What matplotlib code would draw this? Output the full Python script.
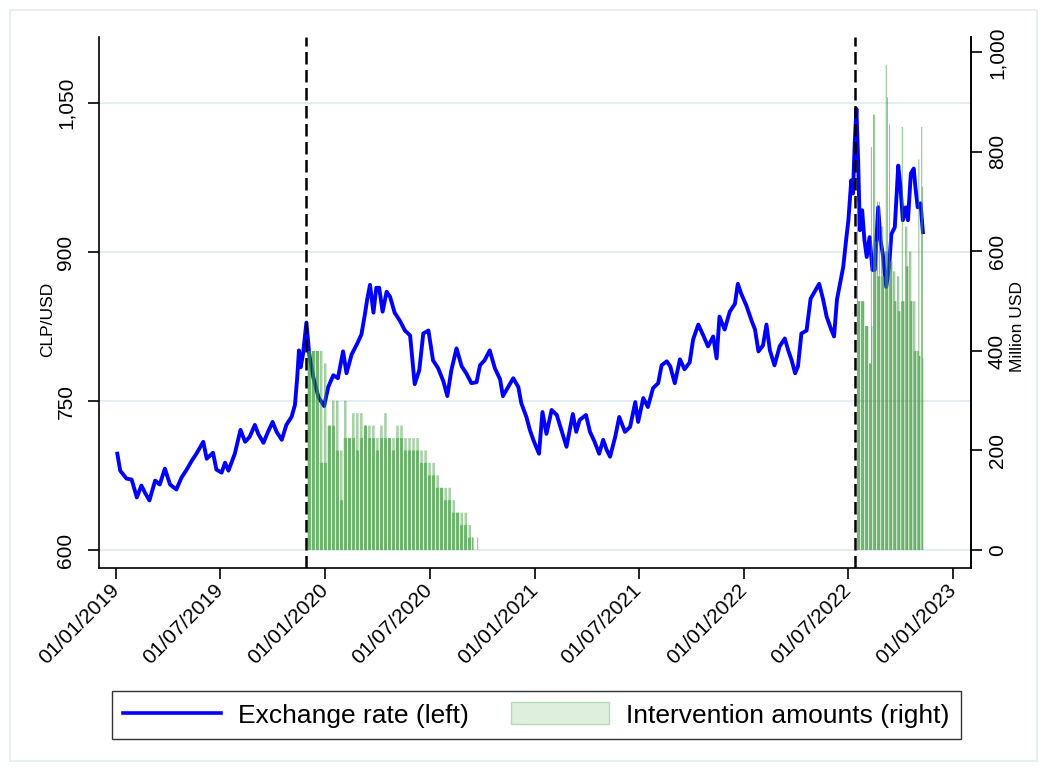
import numpy as np
import pandas as pd
import matplotlib
matplotlib.use("Agg")
import matplotlib.pyplot as plt
from matplotlib.lines import Line2D
from matplotlib.patches import Patch, Rectangle
from matplotlib.ticker import FuncFormatter

plt.rcParams['font.family'] = ['Liberation Sans', 'DejaVu Sans']

# CLP per USD, read at irregular dates
rate_dates = [
    "2019-01-03", "2019-01-08", "2019-01-19", "2019-01-28", "2019-02-06", "2019-02-14",
    "2019-02-20", "2019-02-28", "2019-03-10", "2019-03-18", "2019-03-27", "2019-04-05",
    "2019-04-16", "2019-04-25", "2019-05-04", "2019-05-13", "2019-05-21", "2019-06-02",
    "2019-06-08", "2019-06-19", "2019-06-25", "2019-07-04", "2019-07-10", "2019-07-16",
    "2019-07-27", "2019-08-06", "2019-08-14", "2019-08-22", "2019-08-31", "2019-09-06",
    "2019-09-15", "2019-09-23", "2019-10-01", "2019-10-08", "2019-10-17", "2019-10-25",
    "2019-11-03", "2019-11-09", "2019-11-13", "2019-11-16", "2019-11-19", "2019-11-23",
    "2019-11-29", "2019-12-04", "2019-12-11", "2019-12-20", "2019-12-30", "2020-01-06",
    "2020-01-15", "2020-01-23", "2020-02-01", "2020-02-07", "2020-02-16", "2020-02-25",
    "2020-03-04", "2020-03-10", "2020-03-14", "2020-03-19", "2020-03-25", "2020-03-30",
    "2020-04-04", "2020-04-10", "2020-04-17", "2020-04-23", "2020-05-01", "2020-05-10",
    "2020-05-19", "2020-05-28", "2020-06-05", "2020-06-13", "2020-06-20", "2020-06-29",
    "2020-07-07", "2020-07-16", "2020-07-25", "2020-08-01", "2020-08-08", "2020-08-17",
    "2020-08-26", "2020-09-03", "2020-09-12", "2020-09-21", "2020-09-27", "2020-10-05",
    "2020-10-14", "2020-10-23", "2020-11-01", "2020-11-06", "2020-11-24", "2020-12-03",
    "2020-12-08", "2020-12-17", "2020-12-23", "2020-12-29", "2021-01-08", "2021-01-14",
    "2021-01-21", "2021-01-30", "2021-02-08", "2021-02-16", "2021-02-25", "2021-03-08",
    "2021-03-14", "2021-03-20", "2021-03-31", "2021-04-07", "2021-04-15", "2021-04-23",
    "2021-04-30", "2021-05-06", "2021-05-12", "2021-05-21", "2021-05-28", "2021-06-07",
    "2021-06-16", "2021-06-25", "2021-06-30", "2021-07-09", "2021-07-17", "2021-07-26",
    "2021-08-04", "2021-08-10", "2021-08-19", "2021-08-25", "2021-09-02", "2021-09-11",
    "2021-09-19", "2021-09-28", "2021-10-04", "2021-10-13", "2021-10-21", "2021-10-30",
    "2021-11-08", "2021-11-14", "2021-11-19", "2021-11-28", "2021-12-07", "2021-12-16",
    "2021-12-21", "2021-12-27", "2022-01-05", "2022-01-14", "2022-01-20", "2022-01-26",
    "2022-02-03", "2022-02-09", "2022-02-15", "2022-02-23", "2022-03-04", "2022-03-13",
    "2022-03-19", "2022-03-25", "2022-03-31", "2022-04-05", "2022-04-11", "2022-04-20",
    "2022-04-27", "2022-05-04", "2022-05-12", "2022-05-19", "2022-05-25", "2022-06-02",
    "2022-06-07", "2022-06-12", "2022-06-23", "2022-06-28", "2022-07-02", "2022-07-07",
    "2022-07-10", "2022-07-13", "2022-07-16", "2022-07-19", "2022-07-22", "2022-07-26",
    "2022-07-30", "2022-08-03", "2022-08-08", "2022-08-13", "2022-08-17", "2022-08-23",
    "2022-08-27", "2022-08-31", "2022-09-03", "2022-09-06", "2022-09-11", "2022-09-15",
    "2022-09-21", "2022-09-27", "2022-10-01", "2022-10-05", "2022-10-10", "2022-10-14",
    "2022-10-19", "2022-10-24", "2022-10-27", "2022-10-31", "2022-11-05", "2022-11-09",
]
rate_values = [
    697, 680, 672, 671, 653, 665, 658, 650, 670, 666, 682, 666,
    661, 673, 681, 690, 697, 709, 692, 698, 681, 678, 688, 680,
    697, 721, 709, 714, 726, 717, 708, 719, 729, 719, 711, 726,
    734, 746, 774, 801, 784, 797, 829, 797, 774, 754, 745, 764,
    776, 773, 800, 778, 797, 807, 817, 837, 852, 867, 839, 864,
    864, 840, 860, 855, 839, 831, 821, 816, 767, 781, 818, 821,
    791, 783, 770, 755, 781, 803, 785, 778, 768, 769, 786, 791,
    801, 783, 772, 755, 773, 764, 748, 734, 721, 711, 697, 739,
    717, 741, 736, 721, 704, 737, 719, 731, 736, 719, 709, 697,
    711, 701, 694, 714, 734, 719, 724, 749, 729, 753, 744, 763,
    768, 786, 790, 785, 768, 792, 782, 789, 812, 827, 817, 805,
    815, 793, 835, 822, 840, 848, 868, 858, 846, 831, 822, 800,
    806, 827, 801, 786, 805, 813, 801, 791, 778, 785, 818, 821,
    853, 860, 868, 852, 835, 822, 815, 852, 885, 912, 932, 972,
    959, 1009, 1044, 992, 922, 942, 912, 895, 915, 882, 882, 945,
    912, 898, 882, 865, 885, 918, 925, 987, 965, 932, 945, 932,
    979, 984, 965, 945, 949, 920,
]

# daily intervention amounts (million USD), one row per week, Mon-Fri
sales_2019 = [
    [400, 400, 400, 400, 400], [400, 400, 400, 400, 400], [400, 400, 400, 400, 400],
    [175, 400, 175, 400, 175], [175, 375, 175, 375, 175], [250, 250, 250, 250, 250],
    [250, 300, 250, 300, 250], [200, 300, 200, 300, 200], [100, 200, 100, 200, 100],
    [225, 300, 225, 300, 225], [225, 225, 225, 225, 225], [225, 275, 225, 275, 225],
    [200, 275, 200, 275, 200], [225, 275, 225, 275, 225], [250, 250, 250, 250, 250],
    [225, 250, 225, 250, 225], [225, 250, 225, 250, 225], [200, 225, 200, 225, 200],
    [225, 250, 225, 250, 225], [225, 275, 225, 275, 225], [225, 225, 225, 225, 225],
    [200, 225, 200, 225, 200], [225, 250, 225, 250, 225], [225, 250, 225, 250, 225],
    [200, 225, 200, 225, 200], [200, 225, 200, 225, 200], [200, 225, 200, 225, 200],
    [200, 225, 200, 225, 200], [175, 200, 175, 200, 175], [175, 200, 175, 200, 175],
    [150, 175, 150, 175, 150], [150, 175, 150, 175, 150], [125, 150, 125, 150, 125],
    [125, 125, 125, 125, 125], [100, 125, 100, 125, 100], [100, 125, 100, 125, 100],
    [75, 100, 75, 100, 75], [75, 75, 75, 75, 75], [50, 75, 50, 75, 50],
    [50, 75, 50, 75, 50], [25, 50, 25, 50, 25], [25, 25, 0, 0, 0],
    [0, 0, 25, 0, 0],
]
sales_2022 = [
    [700, 500, 500, 500, 500], [500, 500, 500, 500, 500], [450, 450, 450, 450, 450],
    [375, 375, 375, 810, 450], [875, 620, 875, 620, 620], [700, 550, 550, 700, 550],
    [650, 550, 650, 550, 550], [600, 975, 600, 910, 600], [855, 580, 580, 580, 580],
    [560, 500, 560, 500, 500], [550, 480, 550, 480, 480], [500, 850, 500, 500, 500],
    [650, 570, 650, 570, 570], [600, 500, 600, 500, 500], [500, 400, 500, 400, 400],
    [400, 400, 785, 390, 390], [850, 730, 385],
]
start_2019 = "2019-12-02"
start_2022 = "2022-07-18"

# policy announcement dates
announcements = ["2019-11-29", "2022-07-14"]

tick_dates = pd.date_range("2019-01-01", "2023-01-01", freq="6MS")

fig = plt.figure(figsize=(10.47, 7.71), dpi=100)
fig.patches.append(Rectangle((10 / 1047, 10 / 771), 1027 / 1047, 751 / 771,
                             transform=fig.transFigure, fill=False,
                             edgecolor="#e4ecee", lw=1.2))
ax = fig.add_axes([99 / 1047, 1 - 568 / 771, 872 / 1047, 531 / 771])
ax2 = ax.twinx()

ax.plot(pd.to_datetime(rate_dates), rate_values, color="#0000ff", lw=2.8,
        solid_joinstyle="round", zorder=3)

for start, rows in [(start_2019, sales_2019), (start_2022, sales_2022)]:
    vals = np.concatenate([np.array(r, dtype=float) for r in rows])
    days = pd.bdate_range(start, periods=len(vals))
    keep = vals > 0
    ax2.bar(days[keep], vals[keep], width=1.45, color="#3a9a3a", alpha=0.72,
            linewidth=0, snap=False, zorder=2)

for d in announcements:
    ax2.axvline(pd.Timestamp(d), color="black", lw=1.8, dashes=(5, 2.2), zorder=5)

ax.set_xlim(pd.Timestamp("2018-12-02"), pd.Timestamp("2023-02-01"))
ax.set_ylim(582, 1116.4)
ax2.set_ylim(-36.2, 1031)

comma = FuncFormatter(lambda v, _: f"{v:,.0f}")
ax.set_yticks([600, 750, 900, 1050])
ax.yaxis.set_major_formatter(comma)
ax2.set_yticks(range(0, 1001, 200))
ax2.yaxis.set_major_formatter(comma)

ax.set_xticks(tick_dates)
ax.set_xticklabels([d.strftime("%d/%m/%Y") for d in tick_dates], rotation=45,
                   ha="right", va="center", rotation_mode="anchor")

ax.grid(axis="y", color="#e3ecee", lw=1.5)
ax.set_axisbelow(True)

for a in (ax, ax2):
    a.spines["top"].set_visible(False)
    for s in a.spines.values():
        s.set_linewidth(1.2)
ax2.spines["left"].set_visible(False)
ax2.spines["bottom"].set_visible(False)

ax.tick_params(axis="both", labelsize=15, length=8, width=1.2, direction="out")
ax.tick_params(axis="x", pad=6)
ax.tick_params(axis="y", labelrotation=90, pad=9)
ax2.tick_params(axis="y", labelsize=15, length=8, width=1.2, labelrotation=90, pad=4)
for lab in ax.get_yticklabels() + ax2.get_yticklabels():
    lab.set_verticalalignment("center")

ax.set_ylabel("CLP/USD", fontsize=12.5)
ax.yaxis.set_label_coords(-0.05, 0.468)
ax2.set_ylabel("Million USD", fontsize=12.5)
ax2.yaxis.set_label_coords(1.045, 0.455)

handles = [Line2D([], [], color="#0000ff", lw=2.6),
           Patch(facecolor="#deefde", edgecolor="#b5dab5", lw=1.0)]
leg = fig.legend(handles, ["Exchange rate (left)", "Intervention amounts (right)"],
                 loc="center", bbox_to_anchor=(536.5 / 1047, 1 - 715 / 771), ncol=2,
                 fontsize=19, frameon=True, fancybox=False, edgecolor="black",
                 handlelength=3.7, handleheight=0.9, handletextpad=0.65,
                 columnspacing=1.6, borderpad=0.45)
leg.get_frame().set_linewidth(1.0)

fig.savefig("out.png", dpi=100, facecolor="white")
